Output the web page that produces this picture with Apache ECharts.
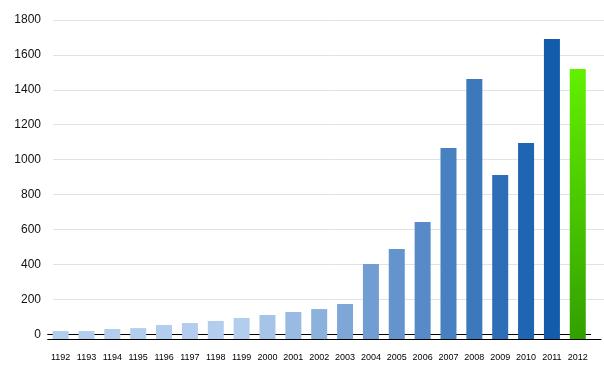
<!DOCTYPE html>
<html>
<head>
<meta charset="utf-8">
<script src="https://cdn.jsdelivr.net/npm/echarts@6/dist/echarts.min.js"></script>
<style>
    html, body { margin: 0; padding: 0; background: #ffffff; }
    #main { width: 604px; height: 376px; }
</style>
</head>
<body>
<div id="main"></div>
<script>
    // categories (years as printed on the chart)
    let years = ['1192', '1193', '1194', '1195', '1196', '1197', '1198', '1199', '2000', '2001', '2002',
        '2003', '2004', '2005', '2006', '2007', '2008', '2009', '2010', '2011', '2012']
    let values = [18, 18, 30, 35, 53, 64, 76, 93, 110, 127, 144,
        173, 402, 488, 643, 1066, 1462, 912, 1095, 1691, 1519]
    let yTicks = [0, 200, 400, 600, 800, 1000, 1200, 1400, 1600, 1800]

    // bar colours: light blue up to 1199, then darker each year, last one green
    function mix(a, b, t) {
        let pa = [parseInt(a.substr(1, 2), 16), parseInt(a.substr(3, 2), 16), parseInt(a.substr(5, 2), 16)]
        let pb = [parseInt(b.substr(1, 2), 16), parseInt(b.substr(3, 2), 16), parseInt(b.substr(5, 2), 16)]
        return 'rgb(' + pa.map(function (v, k) { return Math.round(v + (pb[k] - v) * t) }).join(',') + ')'
    }
    function barColor(i) {
        if (i === years.length - 1) {
            return new echarts.graphic.LinearGradient(0, 0, 0, 1, [
                {offset: 0, color: '#62f000'},
                {offset: 1, color: '#32a000'}
            ])
        }
        let t = i <= 7 ? 0 : (i - 7) / 12
        return mix('#b3cdee', '#135bab', t)
    }

    let font = 'Liberation Sans, Arial, sans-serif'
    let chart = echarts.init(document.getElementById('main'))
    chart.setOption({
        animation: false,
        grid: [
            // gridlines + value labels
            {left: 53, right: 0, top: 20, bottom: 41.8},
            // bars + category axis (axis sits a few px below zero)
            {left: 47.7, right: 13.3, top: 20, bottom: 37},
            // axis line running on to the right edge
            {left: 47.7, right: 3, top: 20, bottom: 37}
        ],
        xAxis: [
            {gridIndex: 0, type: 'category', data: years, show: false},
            {
                gridIndex: 1, type: 'category', data: years,
                axisLine: {lineStyle: {color: '#000', width: 1}},
                axisTick: {length: 5, lineStyle: {color: '#000'}},
                axisLabel: {color: '#000', fontSize: 9, fontFamily: font, margin: 14, interval: 0}
            },
            {
                gridIndex: 2, type: 'value', min: 0, max: 1,
                axisLine: {show: true, lineStyle: {color: '#000', width: 1}},
                axisTick: {show: false}, axisLabel: {show: false}, splitLine: {show: false}
            }
        ],
        yAxis: [
            {
                gridIndex: 0, type: 'value', min: yTicks[0], max: yTicks[yTicks.length - 1], interval: 200,
                axisLine: {show: false}, axisTick: {show: false},
                axisLabel: {
                    color: '#111', fontSize: 12, fontFamily: font, margin: 12,
                    formatter: function (v) { return String(v) }
                },
                splitLine: {showMinLine: false, lineStyle: {color: '#e2e2e2', width: 1}}
            },
            {
                // bars start from the axis line, slightly below zero
                gridIndex: 1, type: 'value', min: -27.5, max: 1800, startValue: -27.5, show: false
            },
            {
                gridIndex: 2, type: 'value', show: false
            }
        ],
        series: [{
            type: 'bar',
            xAxisIndex: 1,
            yAxisIndex: 1,
            barWidth: 16,
            data: values.map(function (v, i) {
                return {value: v, itemStyle: {color: barColor(i)}}
            })
        }]
    })
</script>
</body>
</html>
